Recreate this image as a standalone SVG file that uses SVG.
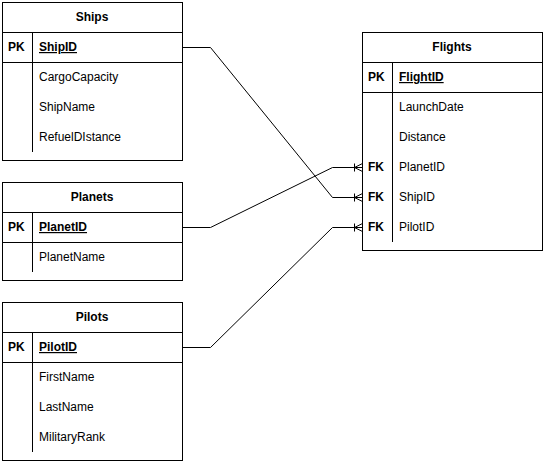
<svg xmlns="http://www.w3.org/2000/svg" width="544" height="464" viewBox="0 0 544 464">
<style>
.box{fill:#fff;stroke:#000;stroke-width:1}
.ln{stroke:#000;stroke-width:1;fill:none}
text{font-family:"Liberation Sans",Arial,sans-serif;font-size:12px;fill:#000}
.t{font-weight:bold;text-anchor:middle}
.k{font-weight:bold}
.pk{font-weight:bold;text-decoration:underline}
</style>
<defs>
<marker id="cf" markerUnits="userSpaceOnUse" markerWidth="12" markerHeight="12" refX="10" refY="6" orient="auto" viewBox="0 0 12 12">
<path d="M2,2 L2,10 M2,6 L10,2 M2,6 L10,10 M2,6 L10,6" fill="none" stroke="#000" stroke-width="1"/>
</marker>
</defs>
<rect width="544" height="464" fill="#fff"/>
<g id="connectors">
<polyline class="ln" points="182.5,47.5 210.5,47.5 332.5,197.5 362.5,197.5" marker-end="url(#cf)"/>
<polyline class="ln" points="182.5,227.5 210.5,227.5 332.5,167.5 362.5,167.5" marker-end="url(#cf)"/>
<polyline class="ln" points="182.5,347.5 210.5,347.5 332.5,227.5 362.5,227.5" marker-end="url(#cf)"/>
</g>
<g id="ships">
<rect class="box" x="2.5" y="2.5" width="180" height="158"/>
<line class="ln" x1="2.5" y1="32.5" x2="182.5" y2="32.5"/>
<line class="ln" x1="2.5" y1="62.5" x2="182.5" y2="62.5"/>
<line class="ln" x1="32.5" y1="32.5" x2="32.5" y2="152"/>
<text class="t" x="92" y="21">Ships</text>
<text class="k" x="8" y="51">PK</text>
<text class="pk" x="39" y="51">ShipID</text>
<text x="39" y="81">CargoCapacity</text>
<text x="39" y="111">ShipName</text>
<text x="39" y="141">RefuelDIstance</text>
</g>
<g id="planets">
<rect class="box" x="2.5" y="182.5" width="180" height="98"/>
<line class="ln" x1="2.5" y1="212.5" x2="182.5" y2="212.5"/>
<line class="ln" x1="2.5" y1="242.5" x2="182.5" y2="242.5"/>
<line class="ln" x1="32.5" y1="212.5" x2="32.5" y2="272"/>
<text class="t" x="92" y="201">Planets</text>
<text class="k" x="8" y="231">PK</text>
<text class="pk" x="39" y="231">PlanetID</text>
<text x="39" y="261">PlanetName</text>
</g>
<g id="pilots">
<rect class="box" x="2.5" y="302.5" width="180" height="158"/>
<line class="ln" x1="2.5" y1="332.5" x2="182.5" y2="332.5"/>
<line class="ln" x1="2.5" y1="362.5" x2="182.5" y2="362.5"/>
<line class="ln" x1="32.5" y1="332.5" x2="32.5" y2="452"/>
<text class="t" x="92" y="321">Pilots</text>
<text class="k" x="8" y="351">PK</text>
<text class="pk" x="39" y="351">PilotID</text>
<text x="39" y="381">FirstName</text>
<text x="39" y="411">LastName</text>
<text x="39" y="441">MilitaryRank</text>
</g>
<g id="flights">
<rect class="box" x="362.5" y="32.5" width="180" height="218"/>
<line class="ln" x1="362.5" y1="62.5" x2="542.5" y2="62.5"/>
<line class="ln" x1="362.5" y1="92.5" x2="542.5" y2="92.5"/>
<line class="ln" x1="392.5" y1="62.5" x2="392.5" y2="242"/>
<text class="t" x="452" y="51">Flights</text>
<text class="k" x="368" y="81">PK</text>
<text class="pk" x="399" y="81">FlightID</text>
<text x="399" y="111">LaunchDate</text>
<text x="399" y="141">Distance</text>
<text class="k" x="368" y="171">FK</text>
<text x="399" y="171">PlanetID</text>
<text class="k" x="368" y="201">FK</text>
<text x="399" y="201">ShipID</text>
<text class="k" x="368" y="231">FK</text>
<text x="399" y="231">PilotID</text>
</g>
</svg>
